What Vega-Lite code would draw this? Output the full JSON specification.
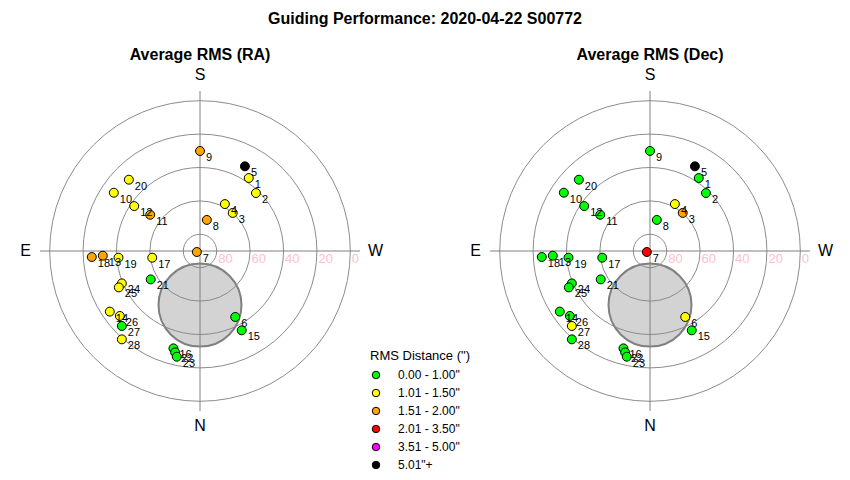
{
  "$schema": "https://vega.github.io/schema/vega-lite/v6.json",
  "background": "white",
  "padding": {"left": 10, "top": 11, "right": 0, "bottom": 0},
  "title": {"text": "Guiding Performance: 2020-04-22 S00772", "font": "Liberation Sans", "fontSize": 16, "fontWeight": "bold", "color": "black", "anchor": "middle", "offset": 20},
  "datasets": {
    "guide": [
      {"id": 1, "x": 29.2, "y": -43.7, "ra": "1.01 - 1.50\"", "dec": "0.00 - 1.00\""},
      {"id": 2, "x": 33.5, "y": -34.7, "ra": "1.01 - 1.50\"", "dec": "0.00 - 1.00\""},
      {"id": 3, "x": 19.6, "y": -22.8, "ra": "1.01 - 1.50\"", "dec": "1.51 - 2.00\""},
      {"id": 4, "x": 14.9, "y": -28.1, "ra": "1.01 - 1.50\"", "dec": "1.01 - 1.50\""},
      {"id": 5, "x": 26.9, "y": -50.7, "ra": "5.01\"+", "dec": "5.01\"+"},
      {"id": 6, "x": 21.1, "y": 39.5, "ra": "0.00 - 1.00\"", "dec": "1.01 - 1.50\""},
      {"id": 7, "x": -1.9, "y": 0.6, "ra": "1.51 - 2.00\"", "dec": "2.01 - 3.50\""},
      {"id": 8, "x": 4.1, "y": -18.6, "ra": "1.51 - 2.00\"", "dec": "0.00 - 1.00\""},
      {"id": 9, "x": 0.0, "y": -59.9, "ra": "1.51 - 2.00\"", "dec": "0.00 - 1.00\""},
      {"id": 10, "x": -51.6, "y": -34.9, "ra": "1.01 - 1.50\"", "dec": "0.00 - 1.00\""},
      {"id": 11, "x": -29.8, "y": -21.7, "ra": "1.51 - 2.00\"", "dec": "0.00 - 1.00\""},
      {"id": 12, "x": -39.4, "y": -26.9, "ra": "1.01 - 1.50\"", "dec": "0.00 - 1.00\""},
      {"id": 13, "x": -58.2, "y": 2.8, "ra": "1.51 - 2.00\"", "dec": "0.00 - 1.00\""},
      {"id": 14, "x": -54.0, "y": 36.3, "ra": "1.01 - 1.50\"", "dec": "0.00 - 1.00\""},
      {"id": 15, "x": 25.0, "y": 47.5, "ra": "0.00 - 1.00\"", "dec": "0.00 - 1.00\""},
      {"id": 16, "x": -15.9, "y": 58.3, "ra": "0.00 - 1.00\"", "dec": "0.00 - 1.00\""},
      {"id": 17, "x": -28.6, "y": 4.0, "ra": "1.01 - 1.50\"", "dec": "0.00 - 1.00\""},
      {"id": 18, "x": -64.8, "y": 3.6, "ra": "1.51 - 2.00\"", "dec": "0.00 - 1.00\""},
      {"id": 19, "x": -48.8, "y": 4.0, "ra": "1.01 - 1.50\"", "dec": "0.00 - 1.00\""},
      {"id": 20, "x": -42.6, "y": -42.7, "ra": "1.01 - 1.50\"", "dec": "0.00 - 1.00\""},
      {"id": 21, "x": -29.5, "y": 17.0, "ra": "0.00 - 1.00\"", "dec": "0.00 - 1.00\""},
      {"id": 22, "x": -14.9, "y": 60.7, "ra": "0.00 - 1.00\"", "dec": "0.00 - 1.00\""},
      {"id": 23, "x": -13.9, "y": 63.3, "ra": "0.00 - 1.00\"", "dec": "0.00 - 1.00\""},
      {"id": 24, "x": -46.8, "y": 19.4, "ra": "1.01 - 1.50\"", "dec": "0.00 - 1.00\""},
      {"id": 25, "x": -48.6, "y": 21.8, "ra": "1.01 - 1.50\"", "dec": "0.00 - 1.00\""},
      {"id": 26, "x": -48.0, "y": 38.9, "ra": "1.01 - 1.50\"", "dec": "0.00 - 1.00\""},
      {"id": 27, "x": -46.8, "y": 44.9, "ra": "0.00 - 1.00\"", "dec": "1.01 - 1.50\""},
      {"id": 28, "x": -46.8, "y": 52.9, "ra": "1.01 - 1.50\"", "dec": "0.00 - 1.00\""}
    ],
    "rings": [
      {"alt": 80, "zd": 10},
      {"alt": 60, "zd": 30},
      {"alt": 40, "zd": 50},
      {"alt": 20, "zd": 70},
      {"alt": 0, "zd": 90}
    ],
    "cross": [
      {"x": -95.8, "x2": 95.8, "y": 0, "y2": 0},
      {"x": 0, "x2": 0, "y": -95.8, "y2": 95.8}
    ],
    "dirs": [
      {"dir": "S", "x": 0, "y": -105.2},
      {"dir": "N", "x": 0, "y": 104.8},
      {"dir": "E", "x": -104.5, "y": 0},
      {"dir": "W", "x": 105.1, "y": 0}
    ],
    "zone": [{"x": 0, "y": 32.4}]
  },
  "spacing": 70,
  "hconcat": [
    {
      "width": 380,
      "height": 380,
      "title": {"text": "Average RMS (RA)", "font": "Liberation Sans", "fontSize": 16, "fontWeight": "bold", "color": "black", "anchor": "middle", "offset": -2},
      "layer": [
        {
          "data": {"name": "zone"},
          "mark": {"type": "point", "shape": "circle", "filled": true, "size": 6889, "fill": "#d3d3d3", "stroke": "#808080", "strokeWidth": 2, "opacity": 1},
          "encoding": {
            "x": {"field": "x", "type": "quantitative", "scale": {"domain": [-90, 90], "range": [39.7, 340.3], "nice": false, "zero": false}, "axis": null},
            "y": {"field": "y", "type": "quantitative", "scale": {"domain": [-90, 90], "range": [39.7, 340.3], "nice": false, "zero": false}, "axis": null}
          }
        },
        {
          "data": {"name": "rings"},
          "mark": {"type": "point", "shape": "circle", "filled": false, "stroke": "#8c8c8c", "strokeWidth": 1, "opacity": 1},
          "encoding": {
            "x": {"datum": 0, "type": "quantitative", "axis": null},
            "y": {"datum": 0, "type": "quantitative", "axis": null},
            "size": {"field": "zd", "type": "quantitative", "scale": {"type": "pow", "exponent": 2, "domain": [0, 90], "range": [0, 90360]}, "legend": null}
          }
        },
        {
          "data": {"name": "cross"},
          "mark": {"type": "rule", "stroke": "#808080", "strokeWidth": 1},
          "encoding": {
            "x": {"field": "x", "type": "quantitative", "axis": null},
            "x2": {"field": "x2"},
            "y": {"field": "y", "type": "quantitative", "axis": null},
            "y2": {"field": "y2"}
          }
        },
        {
          "data": {"name": "rings"},
          "mark": {"type": "text", "align": "left", "baseline": "middle", "dx": 1.5, "dy": 8, "fontSize": 13, "font": "Liberation Sans", "color": "pink"},
          "encoding": {
            "x": {"field": "zd", "type": "quantitative", "axis": null},
            "y": {"datum": 0, "type": "quantitative", "axis": null},
            "text": {"field": "alt", "type": "quantitative"}
          }
        },
        {
          "data": {"name": "guide"},
          "mark": {"type": "point", "shape": "circle", "filled": true, "size": 80, "stroke": "black", "strokeWidth": 1, "opacity": 1},
          "encoding": {
            "x": {"field": "x", "type": "quantitative", "axis": null},
            "y": {"field": "y", "type": "quantitative", "axis": null},
            "color": {
              "field": "ra", "type": "nominal",
              "scale": {"domain": ["0.00 - 1.00\"", "1.01 - 1.50\"", "1.51 - 2.00\"", "2.01 - 3.50\"", "3.51 - 5.00\"", "5.01\"+"], "range": ["#00ff00", "#ffff00", "#ffa500", "#ff0000", "#ff00ff", "#000000"]},
              "legend": {"title": "RMS Distance (\")"}
            }
          }
        },
        {
          "data": {"name": "guide"},
          "mark": {"type": "text", "align": "left", "baseline": "middle", "dx": 6, "dy": 7, "fontSize": 11, "font": "Liberation Sans", "color": "black"},
          "encoding": {
            "x": {"field": "x", "type": "quantitative", "axis": null},
            "y": {"field": "y", "type": "quantitative", "axis": null},
            "text": {"field": "id", "type": "nominal"}
          }
        },
        {
          "data": {"name": "dirs"},
          "mark": {"type": "text", "align": "center", "baseline": "middle", "fontSize": 16, "font": "Liberation Sans", "color": "black"},
          "encoding": {
            "x": {"field": "x", "type": "quantitative", "axis": null},
            "y": {"field": "y", "type": "quantitative", "axis": null},
            "text": {"field": "dir", "type": "nominal"}
          }
        }
      ]
    },
    {
      "width": 380,
      "height": 380,
      "title": {"text": "Average RMS (Dec)", "font": "Liberation Sans", "fontSize": 16, "fontWeight": "bold", "color": "black", "anchor": "middle", "offset": -2},
      "layer": [
        {
          "data": {"name": "zone"},
          "mark": {"type": "point", "shape": "circle", "filled": true, "size": 6889, "fill": "#d3d3d3", "stroke": "#808080", "strokeWidth": 2, "opacity": 1},
          "encoding": {
            "x": {"field": "x", "type": "quantitative", "scale": {"domain": [-90, 90], "range": [39.7, 340.3], "nice": false, "zero": false}, "axis": null},
            "y": {"field": "y", "type": "quantitative", "scale": {"domain": [-90, 90], "range": [39.7, 340.3], "nice": false, "zero": false}, "axis": null}
          }
        },
        {
          "data": {"name": "rings"},
          "mark": {"type": "point", "shape": "circle", "filled": false, "stroke": "#8c8c8c", "strokeWidth": 1, "opacity": 1},
          "encoding": {
            "x": {"datum": 0, "type": "quantitative", "axis": null},
            "y": {"datum": 0, "type": "quantitative", "axis": null},
            "size": {"field": "zd", "type": "quantitative", "scale": {"type": "pow", "exponent": 2, "domain": [0, 90], "range": [0, 90360]}, "legend": null}
          }
        },
        {
          "data": {"name": "cross"},
          "mark": {"type": "rule", "stroke": "#808080", "strokeWidth": 1},
          "encoding": {
            "x": {"field": "x", "type": "quantitative", "axis": null},
            "x2": {"field": "x2"},
            "y": {"field": "y", "type": "quantitative", "axis": null},
            "y2": {"field": "y2"}
          }
        },
        {
          "data": {"name": "rings"},
          "mark": {"type": "text", "align": "left", "baseline": "middle", "dx": 1.5, "dy": 8, "fontSize": 13, "font": "Liberation Sans", "color": "pink"},
          "encoding": {
            "x": {"field": "zd", "type": "quantitative", "axis": null},
            "y": {"datum": 0, "type": "quantitative", "axis": null},
            "text": {"field": "alt", "type": "quantitative"}
          }
        },
        {
          "data": {"name": "guide"},
          "mark": {"type": "point", "shape": "circle", "filled": true, "size": 80, "stroke": "black", "strokeWidth": 1, "opacity": 1},
          "encoding": {
            "x": {"field": "x", "type": "quantitative", "axis": null},
            "y": {"field": "y", "type": "quantitative", "axis": null},
            "color": {
              "field": "dec", "type": "nominal",
              "scale": {"domain": ["0.00 - 1.00\"", "1.01 - 1.50\"", "1.51 - 2.00\"", "2.01 - 3.50\"", "3.51 - 5.00\"", "5.01\"+"], "range": ["#00ff00", "#ffff00", "#ffa500", "#ff0000", "#ff00ff", "#000000"]},
              "legend": {"title": "RMS Distance (\")"}
            }
          }
        },
        {
          "data": {"name": "guide"},
          "mark": {"type": "text", "align": "left", "baseline": "middle", "dx": 6, "dy": 7, "fontSize": 11, "font": "Liberation Sans", "color": "black"},
          "encoding": {
            "x": {"field": "x", "type": "quantitative", "axis": null},
            "y": {"field": "y", "type": "quantitative", "axis": null},
            "text": {"field": "id", "type": "nominal"}
          }
        },
        {
          "data": {"name": "dirs"},
          "mark": {"type": "text", "align": "center", "baseline": "middle", "fontSize": 16, "font": "Liberation Sans", "color": "black"},
          "encoding": {
            "x": {"field": "x", "type": "quantitative", "axis": null},
            "y": {"field": "y", "type": "quantitative", "axis": null},
            "text": {"field": "dir", "type": "nominal"}
          }
        }
      ]
    }
  ],
  "config": {
    "view": {"stroke": null},
    "font": "Liberation Sans",
    "legend": {
      "orient": "none",
      "legendX": 360,
      "legendY": 289,
      "titleFont": "Liberation Sans",
      "titleFontSize": 13,
      "titleFontWeight": "normal",
      "titleColor": "black",
      "titlePadding": 6,
      "labelFont": "Liberation Sans",
      "labelFontSize": 12,
      "labelColor": "black",
      "labelOffset": 16,
      "symbolType": "circle",
      "symbolSize": 56,
      "symbolStrokeColor": "black",
      "symbolStrokeWidth": 1,
      "rowPadding": 6,
      "padding": 0
    }
  }
}
